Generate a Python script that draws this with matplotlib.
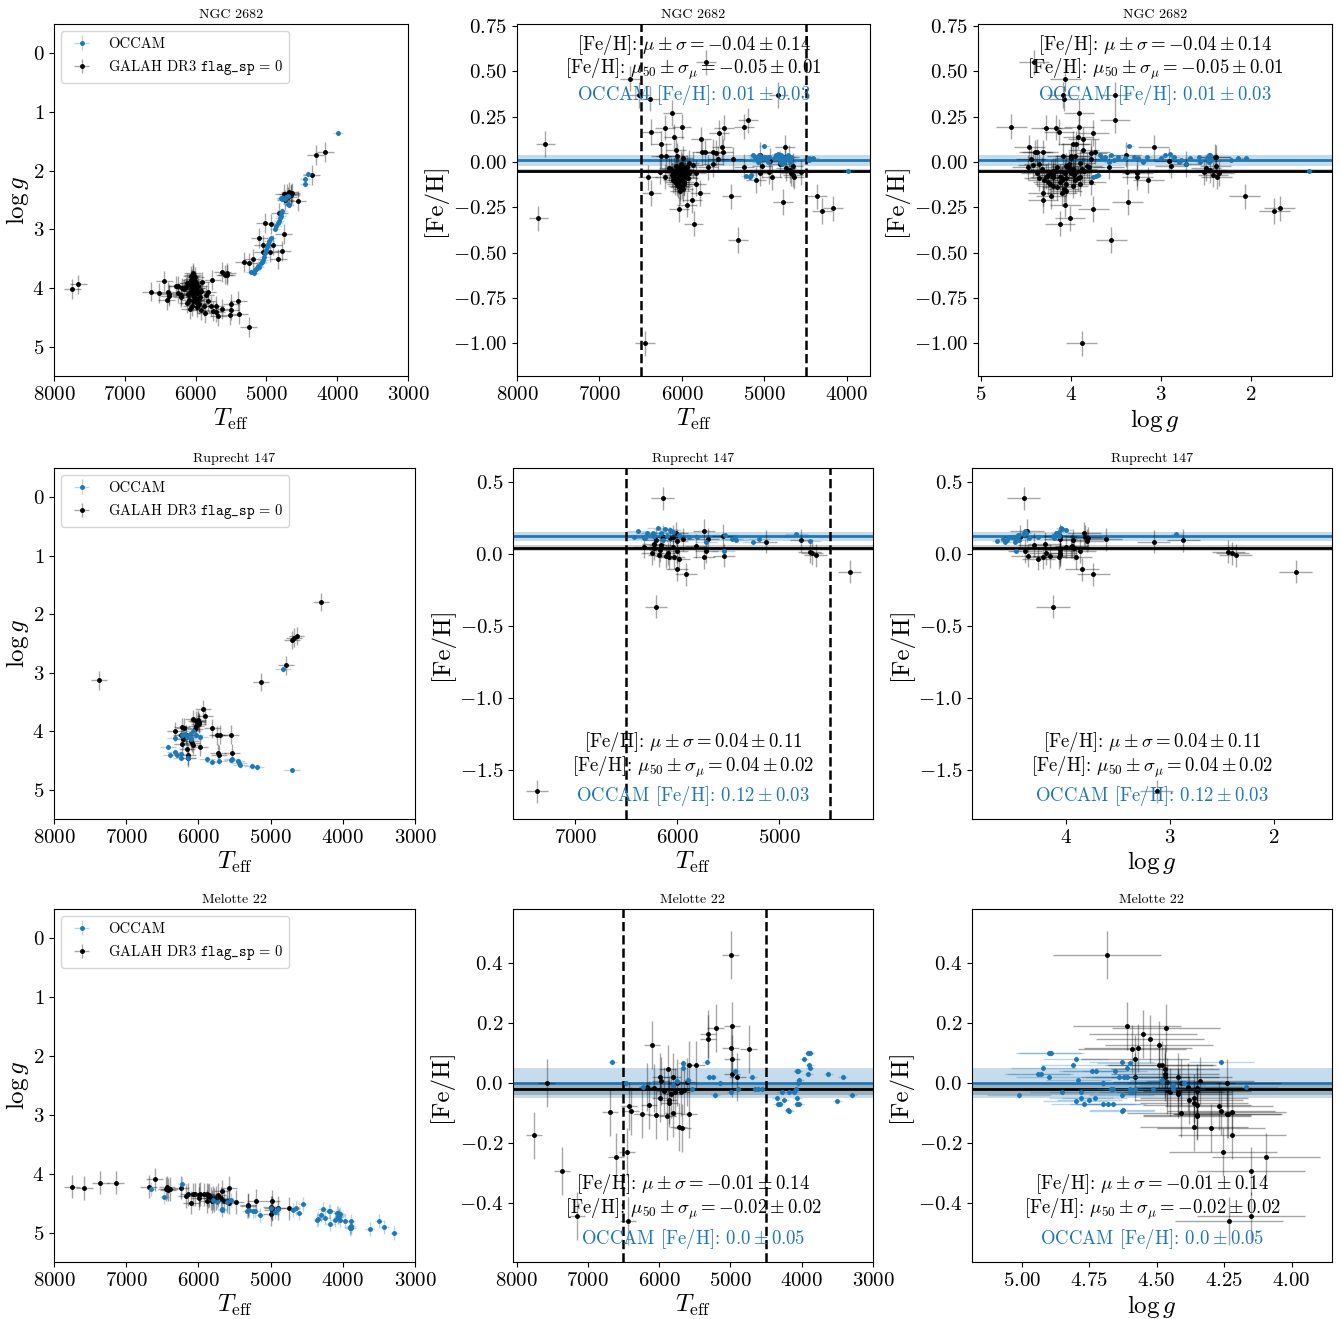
import numpy as np
import matplotlib.pyplot as plt
from matplotlib.colors import to_rgba
from matplotlib.ticker import MultipleLocator

plt.rcParams['font.family'] = ['cmr10']
plt.rcParams['mathtext.fontset'] = 'cm'
plt.rcParams['axes.formatter.use_mathtext'] = True

# (Teff, logg, [Fe/H])
ngc2682_galah = [
    (7740, 4.01, -0.31), (7655, 3.94, 0.10), (6445, 3.88, -1.00), (6630, 4.06, 0.46),
    (6520, 4.09, 0.37), (6385, 4.07, 0.35), (5705, 4.41, 0.55), (4830, 3.51, 0.37),
    (4360, 2.07, -0.19), (4300, 1.74, -0.27), (4170, 1.68, -0.255), (5320, 3.55, -0.43),
    (4775, 3.37, -0.22), (5400, 4.22, -0.19), (5860, 4.12, -0.34), (6040, 3.75, -0.26),
    (5940, 4.06, -0.235), (6370, 4.10, -0.17), (6410, 4.20, -0.085), (5250, 4.66, 0.195),
    (5195, 3.51, 0.23), (6115, 3.91, 0.27), (6380, 4.13, 0.165), (6205, 4.16, 0.19),
    (6250, 3.97, 0.10), (6250, 4.09, 0.035), (6005, 3.91, 0.195), (6095, 3.92, 0.14),
    (5765, 3.86, 0.125), (5550, 3.75, 0.16), (5495, 4.27, 0.19), (5515, 4.46, 0.08),
    (5505, 4.37, 0.055), (5560, 3.78, 0.017), (5590, 3.77, 0.05), (5380, 4.44, 0.015),
    (5245, 3.58, -0.026), (5050, 3.39, 0.04), (4930, 2.91, 0.007), (4755, 3.08, 0.08),
    (4755, 2.40, 0.03), (4705, 2.39, 0.025), (4735, 2.50, -0.035), (4675, 2.36, -0.062),
    (4560, 2.52, -0.057), (4655, 2.39, -0.02), (4650, 2.42, -0.07), (4640, 2.38, -0.08),
    (4690, 2.45, -0.045), (4945, 3.38, -0.053), (4905, 3.26, -0.085), (5100, 3.14, -0.10),
    (5050, 3.26, -0.06), (5025, 2.89, -0.02), (4815, 2.72, -0.01), (5680, 4.48, -0.03),
    (5625, 4.35, -0.01), (5760, 4.40, 0.054), (5715, 4.31, 0.054), (5625, 3.73, 0.057),
    (5865, 4.42, -0.017), (5825, 4.06, -0.06), (5825, 4.23, -0.12), (5785, 4.31, -0.17),
    (5875, 4.31, -0.21), (6000, 4.20, -0.135), (6110, 4.10, -0.10), (6160, 4.02, -0.035),
    (6210, 4.12, -0.08), (6070, 3.86, 0.066), (6060, 3.95, 0.033), (6190, 4.00, 0.033),
    (5990, 4.00, 0.02), (5915, 3.90, -0.005), (6270, 3.97, -0.053),
    (6050, 3.85, -0.05), (6030, 3.90, -0.08), (6010, 3.95, -0.10), (5990, 4.00, -0.06),
    (5970, 4.05, -0.12), (6060, 3.80, -0.03), (6040, 4.10, -0.09), (6020, 4.15, -0.14),
    (6000, 4.20, -0.07), (5980, 4.25, -0.11), (6080, 3.95, -0.06), (6070, 4.05, -0.02),
    (6045, 3.98, -0.13), (6015, 3.88, -0.04), (5995, 3.92, -0.09), (5960, 4.18, -0.05),
    (5950, 4.28, -0.08), (6090, 4.12, -0.11), (6025, 4.05, -0.16), (6005, 3.82, -0.02),
    (5985, 4.08, -0.15), (6035, 4.22, -0.06), (6055, 4.30, -0.10), (5975, 4.32, -0.04),
    (6065, 3.90, -0.12), (6010, 4.02, -0.01), (5940, 4.15, -0.03), (5930, 4.05, -0.09),
    (6100, 4.20, -0.05), (6120, 4.25, -0.07), (6040, 3.78, -0.11), (5965, 3.96, -0.07),
    (6085, 4.35, -0.09), (5920, 4.38, -0.06), (6130, 3.98, -0.04),
]
ngc2682_occam = [
    (5220, 3.72, -0.075), (5180, 3.75, -0.08), (5160, 3.70, -0.07), (5140, 3.68, 0.04),
    (5120, 3.62, 0.03), (5100, 3.65, 0.02), (5080, 3.58, 0.0), (5060, 3.55, 0.04),
    (5050, 3.52, 0.01), (5040, 3.48, 0.03), (5020, 3.40, 0.02), (5000, 3.35, 0.09),
    (4990, 3.30, 0.03), (4980, 3.25, 0.02), (4960, 3.20, 0.0), (4940, 3.15, 0.03),
    (4880, 3.00, 0.02), (4860, 2.95, 0.04), (4840, 2.90, 0.045), (4820, 2.85, 0.03),
    (4810, 2.80, 0.0), (4800, 2.78, 0.01), (4790, 2.72, -0.01), (4780, 2.68, 0.02),
    (4800, 2.47, 0.04), (4780, 2.48, 0.03), (4760, 2.46, 0.0), (4740, 2.49, 0.02),
    (4720, 2.45, 0.04), (4700, 2.44, 0.01), (4690, 2.56, 0.0), (4680, 2.58, 0.03),
    (4460, 2.14, 0.02), (4460, 2.22, 0.01), (4410, 2.06, 0.02), (3990, 1.35, -0.05),
]

ruprecht147_galah = [
    (7375, 3.13, -1.646), (6142, 4.41, 0.384), (6207, 4.13, -0.367), (5998, 3.85, -0.108),
    (5914, 3.74, -0.143), (4308, 1.79, -0.124), (4700, 2.44, 0.014), (4674, 2.40, 0.003),
    (4641, 2.37, -0.009), (4781, 2.875, 0.095), (5130, 3.16, 0.084), (5940, 3.62, 0.10),
    (5734, 4.38, 0.16), (5695, 4.06, 0.102), (5712, 4.40, 0.019), (5737, 4.07, -0.025),
    (5548, 4.06, 0.125), (5538, 4.37, -0.013), (5816, 3.95, 0.054), (5979, 4.27, -0.036),
    (6028, 3.91, -0.025), (6005, 3.83, 0.142), (6038, 3.82, 0.118), (6070, 3.79, 0.107),
    (6086, 4.20, 0.003), (6103, 4.16, -0.016), (6077, 4.23, -0.025), (6168, 4.06, 0.026),
    (6178, 4.06, -0.009), (6161, 4.31, 0.061), (6201, 3.94, 0.095), (6140, 4.45, 0.118),
    (6227, 3.93, 0.038), (6243, 4.06, 0.003), (6325, 4.00, 0.049), (5998, 3.87, 0.019),
    (6044, 3.96, 0.049), (6000, 3.80, 0.09), (6230, 4.21, 0.07),
]
ruprecht147_occam = [
    (4830, 2.94, 0.137), (4700, 4.67, 0.09), (6420, 4.27, 0.118), (6387, 4.40, 0.16),
    (6318, 4.36, 0.107), (6235, 4.39, 0.142), (6244, 4.46, 0.13), (6142, 4.46, 0.095),
    (6327, 4.12, 0.11), (6188, 4.05, 0.176), (6120, 4.04, 0.169), (6070, 4.00, 0.164),
    (6040, 4.07, 0.153), (6160, 4.10, 0.146), (5980, 4.09, 0.13), (5879, 4.48, 0.118),
    (5805, 4.52, 0.118), (5717, 4.50, 0.08), (5542, 4.49, 0.019), (5530, 4.47, 0.13),
    (5458, 4.50, 0.10), (5434, 4.55, 0.118), (5417, 4.57, 0.095), (5255, 4.59, 0.079),
    (5195, 4.61, 0.10), (6290, 4.41, 0.142), (6100, 4.13, 0.12), (6230, 4.07, 0.12),
]

melotte22_galah = [
    (7579, 4.24, 0.001), (7752, 4.22, -0.175), (7359, 4.15, -0.295), (7148, 4.15, -0.445),
    (6690, 4.22, -0.096), (6606, 4.095, -0.247), (6447, 4.255, -0.231), (6433, 4.23, -0.461),
    (6419, 4.27, -0.077), (6400, 4.26, -0.094), (6241, 4.235, -0.104), (6143, 4.35, -0.072),
    (6096, 4.49, 0.128), (6166, 4.385, -0.012), (6072, 4.35, -0.015), (6044, 4.35, -0.107),
    (5988, 4.42, 0.02), (5979, 4.34, 0.006), (5988, 4.36, -0.051), (5927, 4.35, -0.027),
    (5881, 4.47, 0.046), (5885, 4.35, -0.11), (5867, 4.38, -0.057), (5857, 4.36, -0.068),
    (5829, 4.42, -0.037), (5810, 4.47, 0.021), (5801, 4.41, -0.099), (5778, 4.45, -0.03),
    (5754, 4.41, 0.002), (5726, 4.36, -0.146), (5675, 4.30, -0.149), (5689, 4.42, -0.031),
    (5651, 4.46, -0.023), (5605, 4.46, 0.003), (5577, 4.24, -0.104), (5577, 4.49, 0.06),
    (5478, 4.48, 0.062), (5315, 4.55, 0.164), (5315, 4.525, 0.146), (5207, 4.465, 0.185),
    (4997, 4.685, 0.428), (4978, 4.61, 0.192), (4997, 4.57, 0.116), (4978, 4.58, 0.08),
    (4978, 4.47, 0.032), (4903, 4.58, 0.019), (4744, 4.59, 0.113),
]
melotte22_occam = [
    (6657, 4.26, 0.069), (6470, 4.40, 0.001), (6222, 4.17, -0.012), (5801, 4.44, -0.007),
    (5749, 4.48, 0.008), (5670, 4.61, 0.052), (5670, 4.60, 0.068), (5544, 4.44, -0.021),
    (5600, 4.48, 0.01), (5333, 4.63, 0.069), (5296, 4.62, 0.021), (5249, 4.64, 0.021),
    (5212, 4.63, -0.04), (5146, 4.70, 0.002), (4992, 4.59, -0.03), (4936, 4.655, 0.04),
    (4899, 4.60, -0.021), (4692, 4.61, 0.019), (4655, 4.58, -0.021), (4608, 4.66, -0.021),
    (4557, 4.515, -0.021), (4351, 4.78, -0.051), (4337, 4.77, -0.07), (4304, 4.70, -0.07),
    (4281, 4.60, -0.03), (4243, 4.75, -0.057), (4187, 4.626, -0.09), (4173, 4.63, -0.094),
    (4173, 4.85, -0.03), (4107, 4.78, -0.03), (4080, 4.67, -0.021), (4061, 4.73, -0.05),
    (4034, 4.68, -0.07), (4061, 4.66, -0.07), (4047, 4.70, 0.001), (4034, 4.79, 0.01),
    (4061, 4.74, 0.04), (4050, 4.725, 0.04), (3967, 4.80, 0.08), (3906, 4.90, 0.099),
    (3883, 4.89, 0.099), (3892, 4.81, 0.06), (3883, 4.92, 0.051), (3906, 4.93, 0.03),
    (3626, 4.94, 0.03), (3500, 4.80, -0.06), (3425, 4.90, 0.021), (3289, 5.01, -0.04),
]

cluster_names = ['NGC 2682', 'Ruprecht 147', 'Melotte 22']
# typical uncertainties (Teff, logg, [Fe/H])
galah_err = [(120, 0.17, 0.07), (110, 0.16, 0.08), (115, 0.20, 0.08)]
occam_err = [(70, 0.05, 0.01), (110, 0.05, 0.01), (60, 0.12, 0.01)]
# mu, sigma, mu50, sigma_mu, OCCAM mean, OCCAM std
feh_stats = [(-0.04, 0.14, -0.05, 0.01, 0.01, 0.03),
             (0.04, 0.11, 0.04, 0.02, 0.12, 0.03),
             (-0.01, 0.14, -0.02, 0.02, 0.0, 0.05)]
text_at_top = [True, False, False]

teff_xlim = [(8000, 3720), (7608, 4078), (8050, 3000)]
logg_xlim = [(5.03, 1.1), (4.91, 1.44), (5.184, 3.85)]
feh_ylim = [(-1.18, 0.761), (-1.84, 0.595), (-0.598, 0.582)]
feh_step = [0.25, 0.5, 0.2]
logg_step = [1, 1, 0.25]

clusters = [(ngc2682_galah, ngc2682_occam), (ruprecht147_galah, ruprecht147_occam),
            (melotte22_galah, melotte22_occam)]

W, H = 1341, 1319
fig = plt.figure(figsize=(W / 100, H / 100), dpi=100)

# axes boxes in pixels: (left, right) per column, (top, bottom) per row
col_px = [[(54, 408), (517, 870), (978, 1332)],
          [(54, 415), (513, 873), (972, 1332)],
          [(54, 415), (513, 873), (972, 1332)]]
row_px = [(24, 376), (468, 819), (909, 1262)]

blue = 'C0'
blue_err = to_rgba('C0', 0.3)
black_err = (0, 0, 0, 0.35)

for i in range(3):
    g = np.array(clusters[i][0], dtype=float)
    o = np.array(clusters[i][1], dtype=float)
    ge = galah_err[i]
    oe = occam_err[i]
    mu, sig, mu50, sigmu, omu, osig = feh_stats[i]
    top, bot = row_px[i]
    axs = []
    for j in range(3):
        l, r = col_px[i][j]
        axs.append(fig.add_axes([l / W, 1 - bot / H, (r - l) / W, (bot - top) / H]))

    # HR diagram
    ax = axs[0]
    ax.errorbar(o[:, 0], o[:, 1], xerr=oe[0], yerr=oe[1], fmt='.', color=blue,
                ecolor=blue_err, elinewidth=1, ms=5, label='OCCAM', zorder=3)
    ax.errorbar(g[:, 0], g[:, 1], xerr=ge[0], yerr=ge[1], fmt='.', color='k',
                ecolor=black_err, elinewidth=1, ms=5,
                label=r'GALAH DR3 $\mathtt{flag\_sp}\,=\,0$', zorder=2)
    ax.set_xlim(8000, 3000)
    ax.set_ylim(5.5, -0.5)
    ax.xaxis.set_major_locator(MultipleLocator(1000))
    ax.yaxis.set_major_locator(MultipleLocator(1))
    ax.set_xlabel(r'$T_{\rm eff}$', fontsize=18, labelpad=2)
    ax.set_ylabel(r'$\log g$', fontsize=18, labelpad=1)
    ax.legend(loc='upper left', fontsize=10.5)

    # [Fe/H] vs Teff and vs logg
    for j, col in [(1, 0), (2, 1)]:
        ax = axs[j]
        ax.axhspan(omu - osig, omu + osig, color=blue, alpha=0.25, lw=0)
        ax.axhline(omu, color=blue, lw=2)
        ax.axhspan(mu50 - sigmu, mu50 + sigmu, color='k', alpha=0.2, lw=0)
        ax.axhline(mu50, color='k', lw=2)
        ax.errorbar(o[:, col], o[:, 2], xerr=oe[col], yerr=oe[2], fmt='.', color=blue,
                    ecolor=blue_err, elinewidth=1, ms=5, zorder=3)
        ax.errorbar(g[:, col], g[:, 2], xerr=ge[col], yerr=ge[2], fmt='.', color='k',
                    ecolor=black_err, elinewidth=1, ms=5, zorder=2)
        ax.set_ylim(*feh_ylim[i])
        ax.yaxis.set_major_locator(MultipleLocator(feh_step[i]))
        ax.set_ylabel('[Fe/H]', fontsize=18, labelpad=4)
        if j == 1:
            ax.axvline(6500, color='k', ls='--', lw=1.8)
            ax.axvline(4500, color='k', ls='--', lw=1.8)
            ax.set_xlim(*teff_xlim[i])
            ax.xaxis.set_major_locator(MultipleLocator(1000))
            ax.set_xlabel(r'$T_{\rm eff}$', fontsize=18, labelpad=2)
        else:
            ax.set_xlim(*logg_xlim[i])
            ax.xaxis.set_major_locator(MultipleLocator(logg_step[i]))
            ax.set_xlabel(r'$\log g$', fontsize=18, labelpad=2)

        ys = [0.94, 0.872, 0.798] if text_at_top[i] else [0.22, 0.148, 0.066]
        ax.text(0.5, ys[0], r'[Fe/H]: $\mu \pm \sigma = %s \pm %s$' % (mu, sig),
                transform=ax.transAxes, ha='center', va='center', fontsize=13.5)
        ax.text(0.5, ys[1], r'[Fe/H]: $\mu_{50} \pm \sigma_\mu = %s \pm %s$' % (mu50, sigmu),
                transform=ax.transAxes, ha='center', va='center', fontsize=13.5)
        ax.text(0.5, ys[2], r'OCCAM [Fe/H]: $%s \pm %s$' % (omu, osig),
                transform=ax.transAxes, ha='center', va='center', fontsize=13.5, color=blue)

    for ax in axs:
        ax.set_title(cluster_names[i], fontsize=10, pad=4)
        ax.tick_params(labelsize=15)

fig.savefig('out.png', dpi=100)
